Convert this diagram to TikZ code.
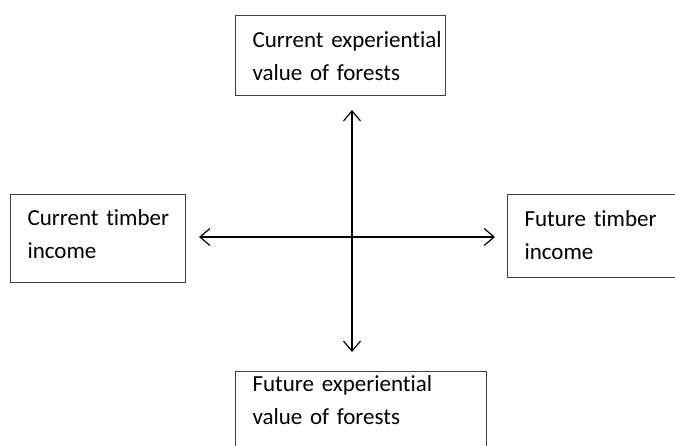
\documentclass[tikz,border=0pt]{standalone}
\usepackage{fontspec}
\setmainfont{Carlito}[Ligatures=NoCommon]
\usetikzlibrary{arrows.meta}

\tikzset{
  box/.style={draw=black!75, line width=1pt, anchor=north west, inner xsep=17pt,
    inner ysep=0pt, align=left, font=\fontsize{23}{33}\selectfont},
  dbl/.style={{Straight Barb[length=10pt,width=17pt]}-{Straight Barb[length=10pt,width=17pt]},
    line width=1.2pt}
}

\begin{document}
\begin{tikzpicture}[x=1pt,y=1pt]
        % Frame
        \useasboundingbox (0,0) rectangle (675,445);
        \clip (0,0) rectangle (675,445);

        % Boxes
        \node[box, text width=176pt, text height=32pt, text depth=48pt] (curexp) at (235,430)
            {\mbox{Current experiential}\\\mbox{value of forests}};
        \node[box, text width=141pt, text height=31pt, text depth=57pt] (curtim) at (10,251)
            {\mbox{Current timber}\\\mbox{income}};
        \node[box, text width=156pt, text height=32pt, text depth=51pt] (futtim) at (507,251)
            {\mbox{Future timber}\\\mbox{income}};
        \node[box, text width=217pt, text height=20pt, text depth=70pt] (futexp) at (235,74)
            {\mbox{Future experiential}\\\mbox{value of forests}};

        % Crossing point
        \coordinate (mid) at (352,208);

        % Arrows
        \draw[dbl, shorten <=14pt, shorten >=19pt] (curexp.south -| mid) -- (futexp.north -| mid);
        \draw[dbl, shorten <=13pt, shorten >=12pt] (curtim.east |- mid) -- (futtim.west |- mid);
\end{tikzpicture}
\end{document}
